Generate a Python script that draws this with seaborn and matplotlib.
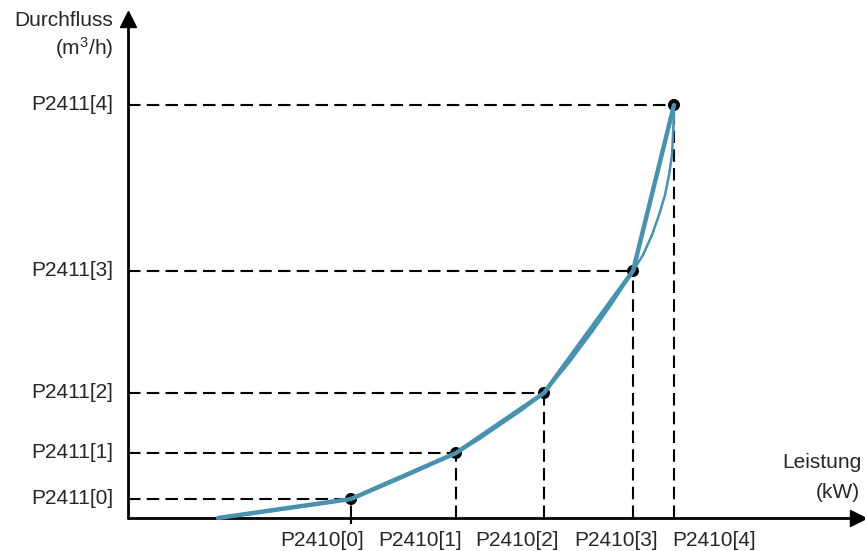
import seaborn as sns
import matplotlib.pyplot as plt
import pandas as pd

# Stützpunkte der Kennlinie (Leistung P2410[i], Durchfluss P2411[i])
leistung = [223, 328, 416, 505, 546]
durchfluss = [19, 65, 125, 247, 413]
x_labels = ['P2410[0]', 'P2410[1]', 'P2410[2]', 'P2410[3]', 'P2410[4]']
y_labels = ['P2411[0]', 'P2411[1]', 'P2411[2]', 'P2411[3]', 'P2411[4]']

# Startpunkt der Kurve auf der x-Achse
start_x = 90
start_y = 0

# glatte Kennlinie
kurve_x = [90, 122, 157, 190, 223, 250, 276, 302, 328, 350, 372, 394, 416,
           440, 464, 485, 505, 515, 524, 531, 537, 541, 544, 545, 546, 546]
kurve_y = [0, 4, 9, 14, 19, 30, 41, 53, 65, 78, 93, 108, 125,
           154, 186, 216, 247, 263, 283, 303, 323, 343, 363, 383, 398, 413]

blau = '#4592b3'

sns.set_style('white')
plt.rcParams['font.family'] = ['Liberation Sans', 'DejaVu Sans']
plt.rcParams['mathtext.fontset'] = 'custom'
plt.rcParams['mathtext.rm'] = 'Liberation Sans'
plt.rcParams['mathtext.it'] = 'Liberation Sans'

fig = plt.figure(figsize=(8.65, 5.51), dpi=100)
ax = fig.add_axes([0, 0, 1, 1])

# Hilfslinien
ax.hlines(durchfluss, 0, leistung, colors='black', linewidth=1.5,
          linestyles=(0, (6, 3)), zorder=1)
ax.vlines(leistung, 0, durchfluss, colors='black', linewidth=1.5,
          linestyles=(0, (6, 3)), zorder=1)
ax.vlines(leistung[0], -6, 0, colors='black', linewidth=1.5, zorder=1)

# Achsen mit Pfeilen
ax.plot([0, 0], [0, 495], color='black', linewidth=2, zorder=2)
ax.plot([0, 728], [0, 0], color='black', linewidth=2, zorder=2)
ax.plot([0], [499], marker='^', markersize=12, color='black', zorder=2)
ax.plot([730], [0], marker='>', markersize=12, color='black', zorder=2)

# Kennlinien
poly = pd.DataFrame({'x': [start_x] + leistung, 'y': [start_y] + durchfluss})
glatt = pd.DataFrame({'x': kurve_x, 'y': kurve_y})
sns.lineplot(data=glatt, x='x', y='y', sort=False, color=blau, linewidth=1.8, ax=ax, zorder=4)
sns.lineplot(data=poly, x='x', y='y', sort=False, color=blau, linewidth=3.2, ax=ax, zorder=4)

punkte = pd.DataFrame({'x': leistung, 'y': durchfluss})
sns.scatterplot(data=punkte, x='x', y='y', color='black', s=75, edgecolor='none', ax=ax, zorder=3)
ax.set_xlim(-128, 737)
ax.set_ylim(-33, 518)
ax.axis('off')

fs = 15
for yv, lab in zip(durchfluss, y_labels):
    ax.text(-15, yv, lab, ha='right', va='center', fontsize=fs)

label_x = [194, 292, 389, 488, 586]
for xv, lab in zip(label_x, x_labels):
    ax.text(xv, -23, lab, ha='center', va='center', fontsize=fs)

ax.text(-15, 497, 'Durchfluss', ha='right', va='center', fontsize=fs)
ax.text(-15, 470, '(m$^3$/h)', ha='right', va='center', fontsize=fs)
ax.text(733, 55, 'Leistung', ha='right', va='center', fontsize=fs)
ax.text(732, 25, '(kW)', ha='right', va='center', fontsize=fs)

fig.savefig('out.png', dpi=100)
